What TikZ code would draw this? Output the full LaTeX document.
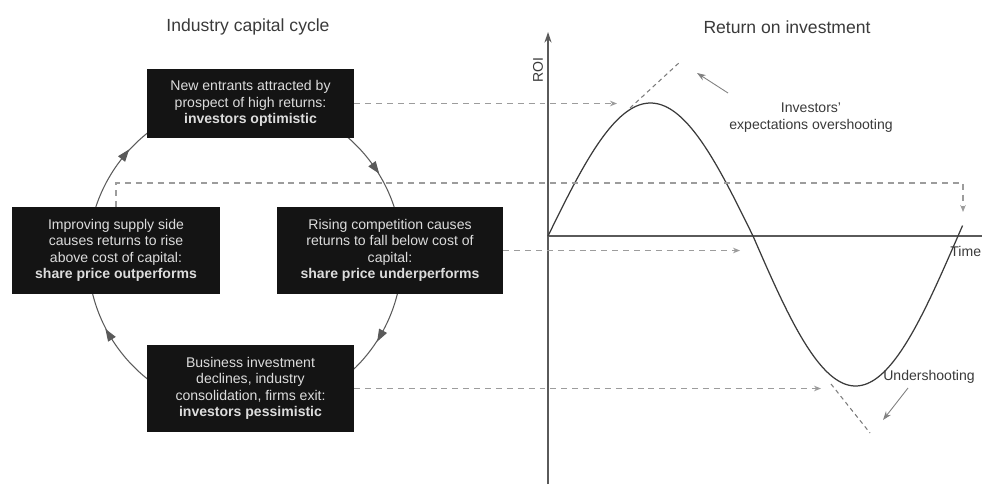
\documentclass[tikz,border=0pt]{standalone}
\usepackage{fontspec}
\setmainfont{Liberation Sans}
\usetikzlibrary{arrows.meta,decorations.markings}
\definecolor{boxfill}{HTML}{141414}
\definecolor{boxtext}{HTML}{DCDCDC}
\definecolor{dashgray}{HTML}{9C9C9C}
\definecolor{linegray}{HTML}{5A5A5A}
\definecolor{labelgray}{HTML}{3A3A3A}
\begin{document}
\begin{tikzpicture}[x=0.02cm,y=-0.02cm,
  cbox/.style={fill=boxfill, text=boxtext, align=center, inner sep=0pt,
    font=\fontsize{8}{9.4}\selectfont},
  cycleline/.style={draw=linegray, line width=0.6pt},
  dashconn/.style={draw=dashgray, line width=0.6pt, dash pattern=on 3.4pt off 2.8pt,
    -{Stealth[length=4pt,width=3.2pt]}},
  tangent/.style={draw=linegray!80, line width=0.6pt, dash pattern=on 2.4pt off 2pt},
  axisline/.style={draw=linegray, line width=0.9pt},
  curveline/.style={draw=labelgray, line width=0.7pt},
  pointer/.style={draw=gray, line width=0.5pt, -{Stealth[length=5pt,width=3.5pt]}},
  lbl/.style={text=labelgray, font=\fontsize{8}{9.6}\selectfont, align=center, inner sep=0pt},
  ttl/.style={text=labelgray, font=\fontsize{10}{12}\selectfont, inner sep=0pt}]
\useasboundingbox (0,0) rectangle (982,484);

% titles
\node[ttl] (t1) at (248,27) {Industry capital cycle};
\node[ttl] (t2) at (787,27) {Return on investment};

% cycle circle with clockwise arrows
\coordinate (cc) at (245,256);
\draw[cycleline, postaction={decorate}, decoration={markings,
   mark=at position 0.1 with {\arrow{Triangle[reversed,length=7pt,width=5pt]}},
   mark=at position 0.394 with {\arrow{Triangle[reversed,length=7pt,width=5pt]}},
   mark=at position 0.589 with {\arrow{Triangle[reversed,length=7pt,width=5pt]}},
   mark=at position 0.921 with {\arrow{Triangle[reversed,length=7pt,width=5pt]}}}]
   (cc) circle[radius=3.14cm];

% boxes
\node[cbox, minimum width=4.14cm, minimum height=1.4cm] (tbox) at (250.5,103.5)
  {New entrants attracted by\\prospect of high returns:\\\textbf{investors optimistic}};
\node[cbox, minimum width=4.16cm, minimum height=1.74cm] (lbox) at (116,250.5)
  {Improving supply side\\causes returns to rise\\above cost of capital:\\\textbf{share price outperforms}};
\node[cbox, minimum width=4.52cm, minimum height=1.74cm] (rbox) at (390,250.5)
  {Rising competition causes\\returns to fall below cost of\\capital:\\\textbf{share price underperforms}};
\node[cbox, minimum width=4.14cm, minimum height=1.74cm] (bbox) at (250.5,388.5)
  {Business investment\\declines, industry\\consolidation, firms exit:\\\textbf{investors pessimistic}};

% axes
\coordinate (o) at (548,236);
\coordinate (ytop) at (548,32);
\coordinate (ybot) at (548,484);
\coordinate (xend) at (990,236);
\draw[axisline, -{Stealth[length=6pt,width=4pt]}] (ybot) -- (ytop);
\draw[axisline] (o) -- (xend);
\node[lbl, rotate=90] (roi) at (538,70.5) {ROI};
\node[lbl, anchor=west] (time) at (950,251) {Time};

% ROI curve
\draw[curveline] plot[domain=0:180, samples=80] ({548+\x/180*205},{236-133*sin(\x)})
  -- plot[domain=180:364, samples=80] ({548+\x/180*205},{236-150*sin(\x)});

% tangents
\coordinate (ov1) at (630,108);
\coordinate (ov2) at (681,61);
\coordinate (un1) at (831,384);
\coordinate (un2) at (870,433);
\draw[tangent] (ov1) -- (ov2);
\draw[tangent] (un1) -- (un2);

% labels and pointers
\node[lbl] (inv) at (811,117.5) {Investors'\\expectations overshooting};
\node[lbl] (under) at (929,377) {Undershooting};
\coordinate (p1s) at (728,93);
\coordinate (p1e) at (697,73);
\coordinate (p2s) at (908,388);
\coordinate (p2e) at (883,420);
\draw[pointer] (p1s) -- (p1e);
\draw[pointer] (p2s) -- (p2e);

% dashed projections
\coordinate (peakin) at (617,103.5);
\coordinate (crossin) at (963,212);
\coordinate (zeroin) at (740,250.5);
\coordinate (troughin) at (821,388.5);
\draw[dashconn] (tbox.east) -- (peakin);
\draw[dashconn] (lbox.north) -- (116,183) -| (crossin);
\draw[dashconn] (rbox.east) -- (zeroin);
\draw[dashconn] (bbox.east) -- (troughin);
\end{tikzpicture}
\end{document}
